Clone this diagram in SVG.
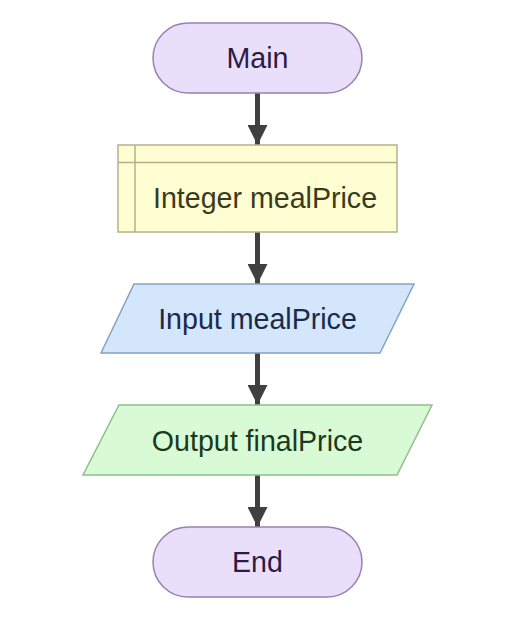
<svg xmlns="http://www.w3.org/2000/svg" width="517" height="641" viewBox="0 0 517 641">
<defs>
<style>
text{font-family:"Liberation Sans",Arial,sans-serif;font-size:28.6px;text-anchor:middle;dominant-baseline:central}
.term{fill:#eadffb;stroke:#9a80b0;stroke-width:1.5}
.decl{fill:#fefed2;stroke:#b2b28c;stroke-width:1.5}
.inp{fill:#d3e6fc;stroke:#85a3c4;stroke-width:1.5}
.out{fill:#d8fbd5;stroke:#8fbf8c;stroke-width:1.5}
.edge{stroke:#404040;stroke-width:5;fill:none}
</style>
<marker id="ah" markerUnits="userSpaceOnUse" markerWidth="22" markerHeight="20" refX="20" refY="10" orient="auto">
<path d="M0,0 L20,10 L0,20 Z" fill="#404040"/>
</marker>
</defs>
<rect width="517" height="641" fill="#ffffff"/>
<g id="edges">
<line class="edge" x1="257.5" y1="93" x2="257.5" y2="145" marker-end="url(#ah)"/>
<line class="edge" x1="257.5" y1="232" x2="257.5" y2="284" marker-end="url(#ah)"/>
<line class="edge" x1="257.5" y1="353" x2="257.5" y2="405" marker-end="url(#ah)"/>
<line class="edge" x1="257.5" y1="475" x2="257.5" y2="527" marker-end="url(#ah)"/>
</g>
<g id="main">
<rect class="term" x="153" y="23" width="209" height="70" rx="35"/>
<text x="257.5" y="58" fill="#2e1a47">Main</text>
</g>
<g id="declare">
<rect class="decl" x="118" y="145" width="279" height="87"/>
<line class="decl" x1="135" y1="145" x2="135" y2="232"/>
<line class="decl" x1="118" y1="162.5" x2="397" y2="162.5"/>
<text x="265" y="198" fill="#3a3a1c">Integer mealPrice</text>
</g>
<g id="input">
<polygon class="inp" points="134,284 414,284 380,353 101,353"/>
<text x="257.5" y="319" fill="#1b2a4a">Input mealPrice</text>
</g>
<g id="output">
<polygon class="out" points="119,405 432,405 397,475 83,475"/>
<text x="257.5" y="441" fill="#1b3a1b">Output finalPrice</text>
</g>
<g id="end">
<rect class="term" x="153" y="527" width="209" height="70" rx="35"/>
<text x="257.5" y="562" fill="#2e1a47">End</text>
</g>
</svg>
